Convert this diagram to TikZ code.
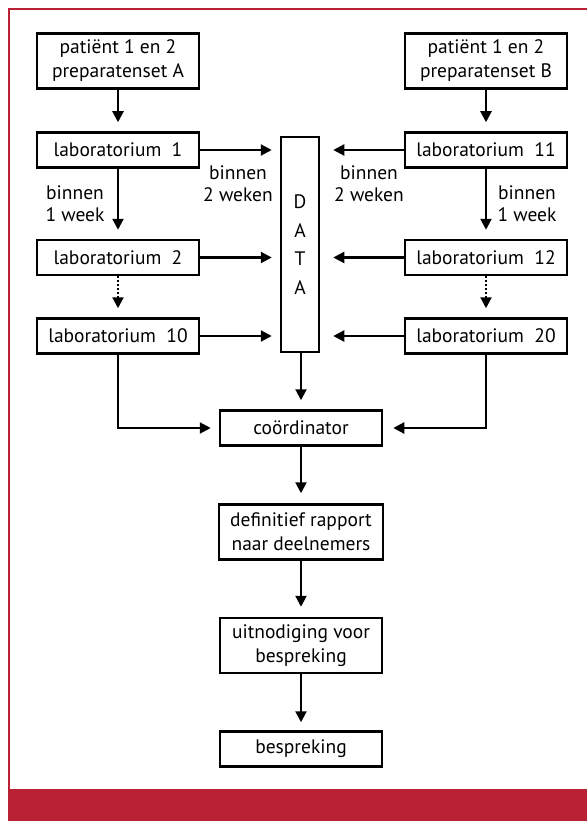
\documentclass[tikz,border=0pt]{standalone}
\usepackage{fontspec}
\setmainfont{PT Sans}
\usetikzlibrary{arrows.meta,calc}
\definecolor{brandred}{RGB}{187,33,52}
\begin{document}
\begin{tikzpicture}[x=1pt,y=-1pt,
  box/.style={draw=black,line width=2.5pt,minimum width=162pt,align=center,inner sep=0pt,
    font=\fontsize{19.5}{24}\selectfont},
  box1/.style={box,minimum height=35pt},
  box2/.style={box,minimum height=55pt},
  lbl/.style={align=center,font=\fontsize{19.5}{22}\selectfont,inner sep=0pt},
  arr/.style={line width=2.2pt,-{Triangle[width=11pt,length=11pt]}},
  darr/.style={arr,dash pattern=on 2pt off 2pt}
]
\useasboundingbox (0,0) rectangle (587,821);
\fill[white] (0,0) rectangle (587,821);
% frame
\draw[brandred,line width=2pt] (8.5,789) -- (8.5,9) -- (587,9);
\fill[brandred] (7.5,789) rectangle (587,821);

% nodes
\node[box2] (pA) at (118,61) {patiënt 1 en 2\\preparatenset A};
\node[box2] (pB) at (486,61) {patiënt 1 en 2\\preparatenset B};
\node[box1] (l1) at (118,150) {laboratorium\ \ 1};
\node[box1] (l11) at (486,150) {laboratorium\ \ 11};
\node[box1] (l2) at (118,257.5) {laboratorium\ \ 2};
\node[box1] (l12) at (486,257.5) {laboratorium\ \ 12};
\node[box1] (l10) at (118,336) {laboratorium\ \ 10};
\node[box1] (l20) at (486,336) {laboratorium\ \ 20};
\node[draw=black,line width=2.5pt,minimum width=38pt,minimum height=215pt,inner sep=0pt,
  align=center,font=\fontsize{19.5}{28.5}\selectfont] (data) at (300,244.5) {D\\A\\T\\A};
\node[box1] (coord) at (301,428) {coördinator};
\node[box2,minimum width=164pt] (def) at (301,532) {definitief rapport\\naar deelnemers};
\node[box2] (uit) at (301,645.5) {uitnodiging voor\\bespreking};
\node[box1] (besp) at (301,749) {bespreking};

% labels
\node[lbl] (t1) at (238,184) {binnen\\2 weken};
\node[lbl] (t2) at (369,184) {binnen\\2 weken};
\node[lbl] (t3) at (75,204) {binnen\\1 week};
\node[lbl] (t4) at (527,204) {binnen\\1 week};

% connectors
\draw[arr,shorten >=9pt] (pA) -- (l1);
\draw[arr,shorten >=9pt] (pB) -- (l11);
\draw[arr,shorten >=9pt] (l1) -- (l2);
\draw[arr,shorten >=9pt] (l11) -- (l12);
\draw[darr,shorten >=9pt] (l2) -- (l10);
\draw[darr,shorten >=9pt] (l12) -- (l20);
\draw[arr,shorten >=8pt] (l1.east) -- (l1.east -| data.west);
\draw[arr,shorten >=8pt] (l2.east) -- (l2.east -| data.west);
\draw[arr,shorten >=8pt] (l10.east) -- (l10.east -| data.west);
\draw[arr,shorten >=13pt] (l11.west) -- (l11.west -| data.east);
\draw[arr,shorten >=13pt] (l12.west) -- (l12.west -| data.east);
\draw[arr,shorten >=13pt] (l20.west) -- (l20.west -| data.east);
\draw[arr,shorten >=9pt] (data.south) -- (data.south -| coord.north) -- (coord.north);
\draw[arr,shorten >=8pt] (l10.south) |- (coord.west);
\draw[arr,shorten >=10pt] (l20.south) |- (coord.east);
\draw[arr,shorten >=10pt] (coord) -- (def);
\draw[arr,shorten >=10pt] (def) -- (uit);
\draw[arr,shorten >=8pt] (uit) -- (besp);
\end{tikzpicture}
\end{document}
